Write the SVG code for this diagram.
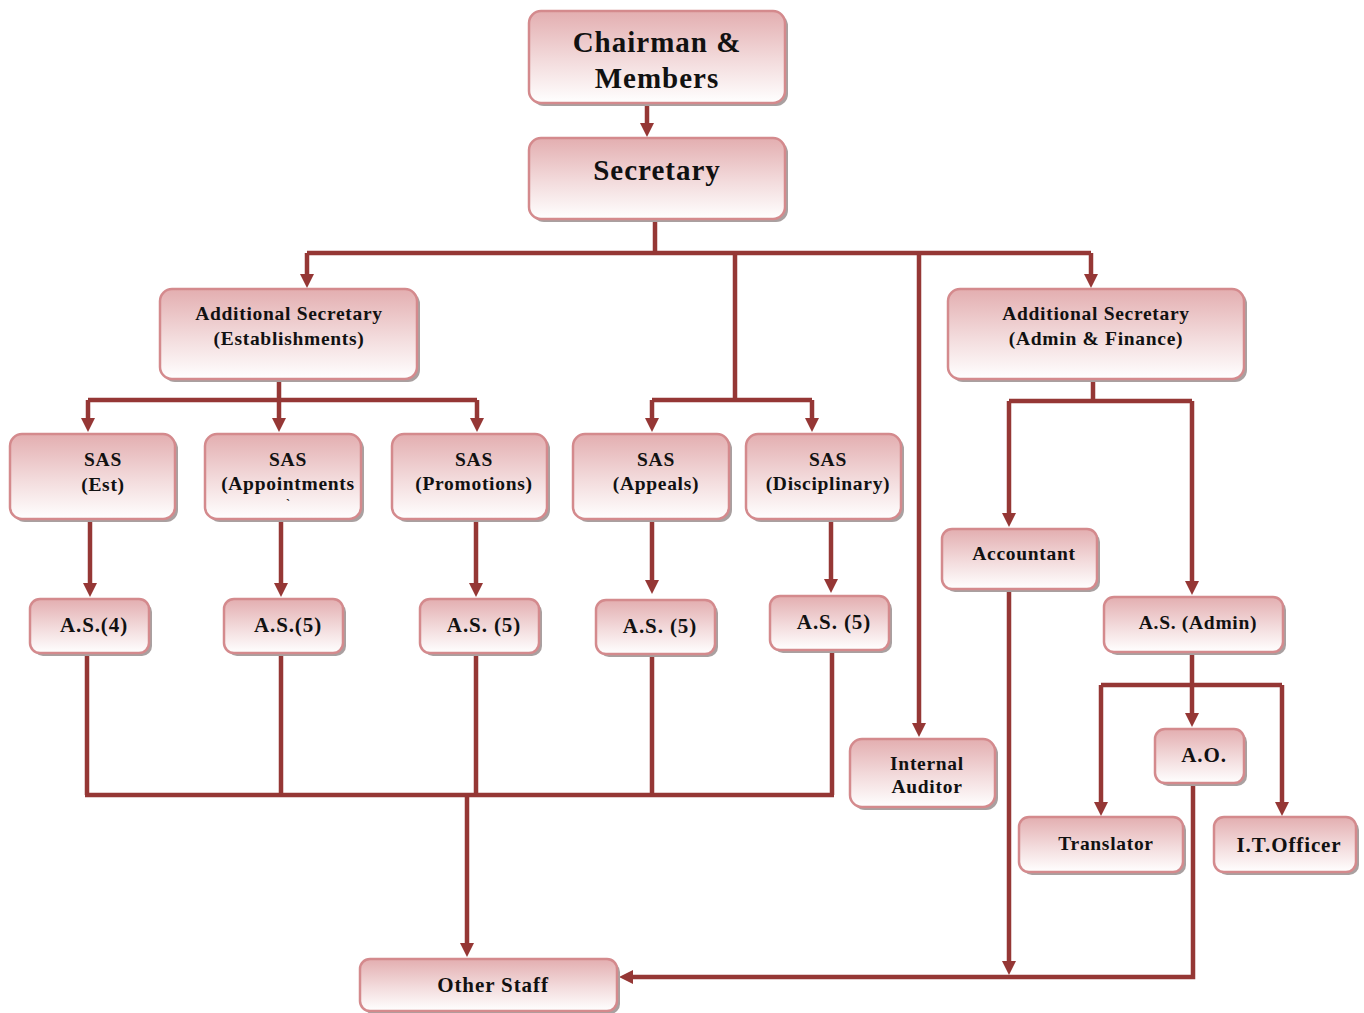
<svg xmlns="http://www.w3.org/2000/svg" width="1364" height="1013" viewBox="0 0 1364 1013">
<style>
.box{fill:url(#g);stroke:#d48a8d;stroke-width:2.5}
.sh{fill:#a9a0a0}
.t{font-family:"Liberation Serif","Times New Roman",serif;font-weight:bold;fill:#111;text-anchor:middle}
.big{font-size:29px;letter-spacing:1px}
.md{font-size:19.5px;letter-spacing:0.7px}
.lg{font-size:21px;letter-spacing:0.9px}
.c{fill:none;stroke:#953735;stroke-width:4.5}
.a{marker-end:url(#ar)}
</style>
<defs>
<linearGradient id="g" x1="0" y1="0" x2="0" y2="1">
<stop offset="0" stop-color="#e3aeb0"/>
<stop offset="0.55" stop-color="#f3dcdd"/>
<stop offset="1" stop-color="#ffffff"/>
</linearGradient>
<marker id="ar" viewBox="0 0 14 14" refX="0" refY="7" markerWidth="14" markerHeight="14" markerUnits="userSpaceOnUse" orient="auto">
<path d="M0,0 L14,7 L0,14 Z" fill="#953735"/>
</marker>
</defs>
<g id="connectors">
<path class="c a" d="M647,103 V123"/>
<path class="c" d="M655,219 V253 M307,253 H1091"/>
<path class="c a" d="M307,253 V274"/>
<path class="c a" d="M1091,253 V274"/>
<path class="c a" d="M919,253 V723"/>
<path class="c" d="M735,253 V400 M652,400 H812"/>
<path class="c a" d="M652,400 V418"/>
<path class="c a" d="M812,400 V418"/>
<path class="c" d="M279,379 V400 M88,400 H477"/>
<path class="c a" d="M88,400 V418"/>
<path class="c a" d="M279,400 V418"/>
<path class="c a" d="M477,400 V418"/>
<path class="c a" d="M90,519 V583"/>
<path class="c a" d="M281,519 V583"/>
<path class="c a" d="M476,519 V583"/>
<path class="c a" d="M652,519 V580"/>
<path class="c a" d="M831,519 V579"/>
<path class="c" d="M87,653 V795 M281,653 V795 M476,653 V795 M652,654 V795 M832,650 V795 M85,795 H834"/>
<path class="c a" d="M467,795 V943"/>
<path class="c" d="M1093,379 V401 M1009,401 H1192"/>
<path class="c a" d="M1009,401 V513"/>
<path class="c a" d="M1192,401 V581"/>
<path class="c" d="M1192,652 V685 M1101,685 H1282"/>
<path class="c a" d="M1101,685 V802"/>
<path class="c a" d="M1192,685 V713"/>
<path class="c a" d="M1282,685 V802"/>
<path class="c a" d="M1009,589 V961"/>
<path class="c a" d="M1193,783 V977 H633"/>
</g>
<g id="chairman">
<rect class="sh" x="532" y="14" width="256" height="92" rx="12"/>
<rect class="box" x="529" y="11" width="256" height="92" rx="12"/>
<text class="t big" x="657" y="52">Chairman &amp;</text>
<text class="t big" x="657" y="88">Members</text>
</g>
<g id="secretary">
<rect class="sh" x="532" y="141" width="256" height="81" rx="12"/>
<rect class="box" x="529" y="138" width="256" height="81" rx="12"/>
<text class="t big" x="657" y="180">Secretary</text>
</g>
<g id="as-est">
<rect class="sh" x="163" y="292" width="257" height="90" rx="12"/>
<rect class="box" x="160" y="289" width="257" height="90" rx="12"/>
<text class="t md" x="289" y="320">Additional Secretary</text>
<text class="t md" x="289" y="345">(Establishments)</text>
</g>
<g id="as-admin-fin">
<rect class="sh" x="951" y="292" width="296" height="90" rx="12"/>
<rect class="box" x="948" y="289" width="296" height="90" rx="12"/>
<text class="t md" x="1096" y="320">Additional Secretary</text>
<text class="t md" x="1096" y="345">(Admin &amp; Finance)</text>
</g>
<g id="sas-est">
<rect class="sh" x="13" y="437" width="165" height="85" rx="12"/>
<rect class="box" x="10" y="434" width="165" height="85" rx="12"/>
<text class="t md" x="103" y="466">SAS</text>
<text class="t md" x="103" y="491">(Est)</text>
</g>
<g id="sas-app">
<rect class="sh" x="208" y="437" width="156" height="85" rx="12"/>
<rect class="box" x="205" y="434" width="156" height="85" rx="12"/>
<text class="t md" x="288" y="466">SAS</text>
<text class="t md" x="288" y="490">(Appointments</text>
<text class="t" font-size="12" x="288" y="508">`</text>
</g>
<g id="sas-prom">
<rect class="sh" x="395" y="437" width="155" height="85" rx="12"/>
<rect class="box" x="392" y="434" width="155" height="85" rx="12"/>
<text class="t md" x="474" y="466">SAS</text>
<text class="t md" x="474" y="490">(Promotions)</text>
</g>
<g id="sas-appeals">
<rect class="sh" x="576" y="437" width="156" height="85" rx="12"/>
<rect class="box" x="573" y="434" width="156" height="85" rx="12"/>
<text class="t md" x="656" y="466">SAS</text>
<text class="t md" x="656" y="490">(Appeals)</text>
</g>
<g id="sas-disc">
<rect class="sh" x="749" y="437" width="155" height="85" rx="12"/>
<rect class="box" x="746" y="434" width="155" height="85" rx="12"/>
<text class="t md" x="828" y="466">SAS</text>
<text class="t md" x="828" y="490">(Disciplinary)</text>
</g>
<g id="as4">
<rect class="sh" x="33" y="602" width="119" height="54" rx="10"/>
<rect class="box" x="30" y="599" width="119" height="54" rx="10"/>
<text class="t lg" x="94" y="632">A.S.(4)</text>
</g>
<g id="as5a">
<rect class="sh" x="227" y="602" width="119" height="54" rx="10"/>
<rect class="box" x="224" y="599" width="119" height="54" rx="10"/>
<text class="t lg" x="288" y="632">A.S.(5)</text>
</g>
<g id="as5b">
<rect class="sh" x="423" y="602" width="119" height="54" rx="10"/>
<rect class="box" x="420" y="599" width="119" height="54" rx="10"/>
<text class="t lg" x="484" y="632">A.S. (5)</text>
</g>
<g id="as5c">
<rect class="sh" x="599" y="603" width="119" height="54" rx="10"/>
<rect class="box" x="596" y="600" width="119" height="54" rx="10"/>
<text class="t lg" x="660" y="633">A.S. (5)</text>
</g>
<g id="as5d">
<rect class="sh" x="773" y="599" width="119" height="54" rx="10"/>
<rect class="box" x="770" y="596" width="119" height="54" rx="10"/>
<text class="t lg" x="834" y="629">A.S. (5)</text>
</g>
<g id="internal-auditor">
<rect class="sh" x="853" y="742" width="145" height="68" rx="12"/>
<rect class="box" x="850" y="739" width="145" height="68" rx="12"/>
<text class="t md" x="927" y="770">Internal</text>
<text class="t md" x="927" y="793">Auditor</text>
</g>
<g id="accountant">
<rect class="sh" x="945" y="532" width="155" height="60" rx="10"/>
<rect class="box" x="942" y="529" width="155" height="60" rx="10"/>
<text class="t md" x="1024" y="560">Accountant</text>
</g>
<g id="as-admin">
<rect class="sh" x="1107" y="600" width="179" height="55" rx="10"/>
<rect class="box" x="1104" y="597" width="179" height="55" rx="10"/>
<text class="t md" x="1198" y="629">A.S. (Admin)</text>
</g>
<g id="ao">
<rect class="sh" x="1158" y="732" width="89" height="54" rx="10"/>
<rect class="box" x="1155" y="729" width="89" height="54" rx="10"/>
<text class="t lg" x="1204" y="762">A.O.</text>
</g>
<g id="translator">
<rect class="sh" x="1022" y="820" width="164" height="55" rx="10"/>
<rect class="box" x="1019" y="817" width="164" height="55" rx="10"/>
<text class="t md" x="1106" y="850">Translator</text>
</g>
<g id="it-officer">
<rect class="sh" x="1217" y="820" width="142" height="55" rx="10"/>
<rect class="box" x="1214" y="817" width="142" height="55" rx="10"/>
<text class="t lg" x="1289" y="852">I.T.Officer</text>
</g>
<g id="other-staff">
<rect class="sh" x="363" y="962" width="257" height="52" rx="10"/>
<rect class="box" x="360" y="959" width="257" height="52" rx="10"/>
<text class="t lg" x="493" y="992">Other Staff</text>
</g>
</svg>
